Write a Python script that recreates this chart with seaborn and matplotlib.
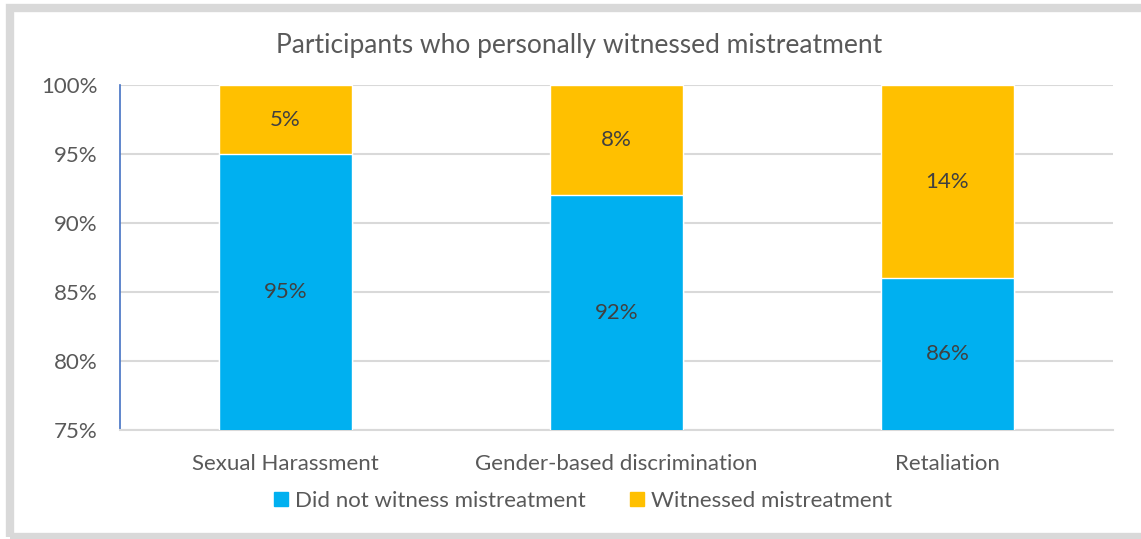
import matplotlib
matplotlib.use("Agg")
import matplotlib.pyplot as plt
import seaborn as sns
import pandas as pd
from matplotlib.patches import Rectangle
from matplotlib.ticker import FuncFormatter

categories = ["Sexual Harassment", "Gender-based discrimination", "Retaliation"]
not_witnessed = [95, 92, 86]
witnessed = [5, 8, 14]
series_names = ["Did not witness mistreatment", "Witnessed mistreatment"]
title = "Participants who personally witnessed mistreatment"

BLUE = "#00B0F0"
GOLD = "#FFC000"
TEXT = "#595959"
GRID = "#D9D9D9"

sns.set_theme(style="white")
plt.rcParams["font.family"] = ["Lato", "DejaVu Sans"]

df = pd.DataFrame({
    "category": categories,
    "not_witnessed": not_witnessed,
    "witnessed": witnessed,
})
df["total"] = df["not_witnessed"] + df["witnessed"]

fig = plt.figure(figsize=(11.41, 5.39), dpi=100)
ax = fig.add_axes([120 / 1141, 1 - 430 / 539, 993 / 1141, 345 / 539])

# stacked bars: full height in gold, lower segment in blue on top
sns.barplot(data=df, x="category", y="total", color=GOLD, width=0.4,
            saturation=1, ax=ax, zorder=2)
sns.barplot(data=df, x="category", y="not_witnessed", color=BLUE, width=0.4,
            saturation=1, ax=ax, zorder=3)

ax.set_ylim(75, 100)
ax.set_yticks([75, 80, 85, 90, 95, 100])
ax.yaxis.set_major_formatter(FuncFormatter(lambda v, p: f"{v:.0f}%"))
ax.grid(axis="y", color=GRID, linewidth=1.5, zorder=0)
ax.set_axisbelow(True)
for s in ["top", "right"]:
    ax.spines[s].set_visible(False)
ax.spines["left"].set_color("#4472C4")
ax.spines["left"].set_linewidth(1.2)
ax.spines["bottom"].set_color(GRID)
ax.spines["bottom"].set_linewidth(1.5)
ax.tick_params(axis="both", length=0, labelsize=16, colors=TEXT)
ax.tick_params(axis="x", pad=17)
ax.tick_params(axis="y", pad=16)
ax.set_xlabel("")
ax.set_ylabel("")

# segment labels
for i, (nw, w) in enumerate(zip(not_witnessed, witnessed)):
    ax.text(i, 75 + (nw - 75) / 2, f"{nw}%", ha="center", va="center",
            fontsize=16, color="#404040", zorder=4)
    ax.text(i, nw + w / 2, f"{w}%", ha="center", va="center",
            fontsize=16, color="#404040", zorder=4)

fig.text(579 / 1141, 1 - 46 / 539, title, ha="center", va="center",
         fontsize=19, color=TEXT)

handles = [Rectangle((0, 0), 1, 1, color=BLUE), Rectangle((0, 0), 1, 1, color=GOLD)]
fig.legend(handles, series_names, loc="center", bbox_to_anchor=(583 / 1141, 1 - 501 / 539),
           ncol=2, frameon=False, fontsize=16, labelcolor=TEXT,
           handlelength=0.63, handleheight=0.63, handletextpad=0.3, columnspacing=2.0)

# outer chart frame
fig.patches.append(Rectangle((10 / 1141, 2 / 539), 1.0, 1 - 10 / 539,
                             transform=fig.transFigure, fill=False,
                             edgecolor="#D9D9D9", linewidth=6))

fig.savefig("out.png", dpi=100, facecolor="white")
